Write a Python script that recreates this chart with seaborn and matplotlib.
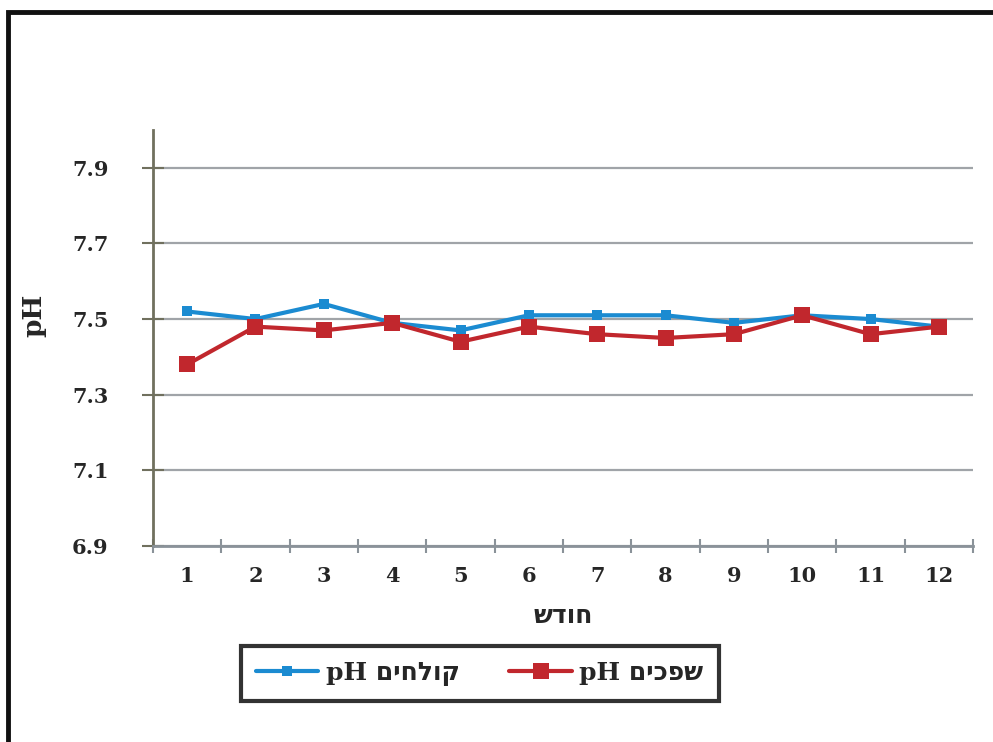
import matplotlib
matplotlib.use("Agg")
import matplotlib.pyplot as plt
import seaborn as sns
import pandas as pd
from matplotlib.patches import Rectangle
from matplotlib.ticker import FixedLocator

# months 1-12
months = [1, 2, 3, 4, 5, 6, 7, 8, 9, 10, 11, 12]
# pH קולחים (effluent) - blue
effluent_ph = [7.52, 7.50, 7.54, 7.49, 7.47, 7.51, 7.51, 7.51, 7.49, 7.51, 7.50, 7.48]
# pH שפכים (sewage) - red
sewage_ph = [7.38, 7.48, 7.47, 7.49, 7.44, 7.48, 7.46, 7.45, 7.46, 7.51, 7.46, 7.48]

y_ticks = [6.9, 7.1, 7.3, 7.5, 7.7, 7.9]

# matplotlib has no bidi, so Hebrew is given in visual (reversed) order
label_effluent = "pH " + "קולחים"[::-1]
label_sewage = "pH " + "שפכים"[::-1]
x_title = "חודש"[::-1]

BLUE = "#1b8bd1"
RED = "#c1272d"

sns.set_style("white")
plt.rcParams["font.family"] = ["DejaVu Serif", "DejaVu Sans"]
plt.rcParams["font.weight"] = "bold"

df_eff = pd.DataFrame({"month": months, "ph": effluent_ph})
df_sew = pd.DataFrame({"month": months, "ph": sewage_ph})

fig = plt.figure(figsize=(9.93, 7.42), dpi=100)
ax = fig.add_axes([0.154, 0.264, 0.826, 0.561])

sns.lineplot(data=df_eff, x="month", y="ph", ax=ax, color=BLUE, linewidth=3,
             marker="s", markersize=7, markeredgewidth=0, label=label_effluent)
sns.lineplot(data=df_sew, x="month", y="ph", ax=ax, color=RED, linewidth=3,
             marker="s", markersize=11, markeredgewidth=0, label=label_sewage)

ax.set_xlim(0.5, 12.5)
ax.set_ylim(6.9, 8.0)
ax.set_xticks(months)
ax.set_xticklabels([str(m) for m in months])
ax.xaxis.set_minor_locator(FixedLocator([m - 0.5 for m in months] + [12.5]))
ax.set_yticks(y_ticks)
ax.set_yticklabels([f"{v:.1f}" for v in y_ticks])

ax.tick_params(axis="x", which="major", length=0, pad=14, labelsize=15)
ax.tick_params(axis="x", which="minor", direction="inout", length=10, width=1.5, color="#8a9299", bottom=True)
ax.tick_params(axis="y", direction="inout", length=16, width=1.5, color="#70705e", pad=24, labelsize=15, left=True)

ax.grid(axis="y", color="#a0a4a8", linewidth=1.6)
ax.grid(axis="x", visible=False)
for side in ("top", "right"):
    ax.spines[side].set_visible(False)
ax.spines["left"].set_color("#70705e")
ax.spines["left"].set_linewidth(2)
ax.spines["bottom"].set_color("#8a9299")
ax.spines["bottom"].set_linewidth(2)

ax.set_xlabel(x_title, fontsize=18, fontweight="bold")
ax.xaxis.set_label_coords(0.5, -0.14)
ax.set_ylabel("pH", fontsize=19, fontweight="bold")
ax.yaxis.set_label_coords(-0.13, 0.555)

ax.legend_.remove()
handles, labels = ax.get_legend_handles_labels()
leg = fig.legend(handles, labels, loc="center", bbox_to_anchor=(0.483, 0.092), ncol=2,
                 frameon=True, fancybox=False, edgecolor="black", fontsize=18,
                 handlelength=2.5, handletextpad=0.3, columnspacing=2.0, borderpad=0.6)
leg.get_frame().set_linewidth(3)

fig.patches.append(Rectangle((0.008, -0.1), 1.2, 1.084, transform=fig.transFigure,
                             fill=False, edgecolor="#111111", linewidth=3.5))

fig.savefig("out.png", dpi=100)
